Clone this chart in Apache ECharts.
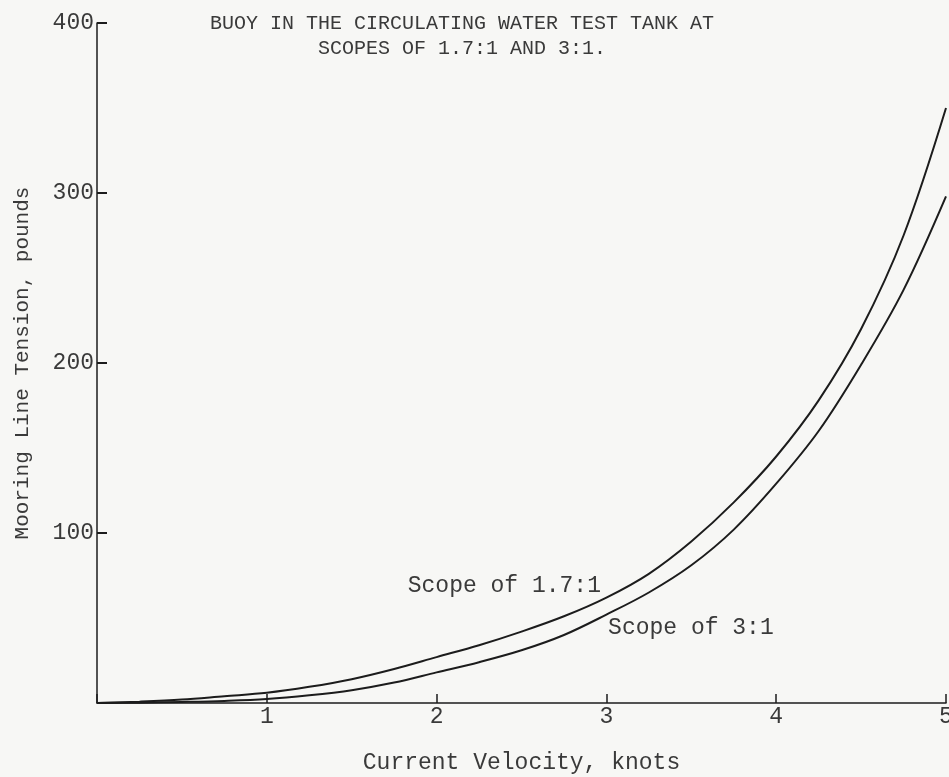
<!DOCTYPE html>
<html>
<head>
<meta charset="utf-8">
<title>Mooring Line Tension vs Current Velocity</title>
<script src="https://cdn.jsdelivr.net/npm/echarts@6/dist/echarts.min.js"></script>
<style>
  html, body { margin: 0; padding: 0; background: #f7f7f5; }
  #chart { width: 949px; height: 777px; }
</style>
</head>
<body>
<div id="chart"></div>
<script>
// Current velocity, knots
const velocity = [0, 0.25, 0.5, 0.75, 1, 1.25, 1.5, 1.75, 2, 2.25, 2.5, 2.75, 3, 3.25, 3.5, 3.75, 4, 4.25, 4.5, 4.75, 5];
// Mooring line tension, pounds, scope 1.7:1
const tensionScope17 = [0, 0.8, 2, 4, 6, 9.5, 14, 20, 27, 34, 42, 51, 62, 76, 95, 118, 145, 178, 220, 275, 350];
// Mooring line tension, pounds, scope 3:1
const tensionScope3 = [0, 0.2, 0.6, 1.2, 2.3, 4.5, 7.5, 12, 18, 24, 31, 40, 52, 65, 81, 102, 129, 160, 199, 243, 298];

const xTickLabels = ['', '1', '2', '3', '4', '5'];
const yTickLabels = ['', '100', '200', '300', '400'];

const titleLines = ['BUOY IN THE CIRCULATING WATER TEST TANK AT', 'SCOPES OF 1.7:1 AND 3:1.'];
const seriesNames = ['Scope of 1.7:1', 'Scope of 3:1'];
// label anchors in data units [knots, pounds]
const labelAnchors = [[1.83, 69], [3.01, 44]];

const mono = '"Liberation Mono", "DejaVu Sans Mono", monospace';
const ink = '#1c1c1c';
const textInk = '#3a3a3a';

const chart = echarts.init(document.getElementById('chart'), null, { renderer: 'canvas' });

function pairs(xs, ys) { return xs.map((x, i) => [x, ys[i]]); }

function curve(name, values, anchor) {
  return {
    name: name,
    type: 'line',
    data: pairs(velocity, values),
    smooth: 0.35,
    symbol: 'none',
    lineStyle: { color: ink, width: 2 },
    markPoint: {
      symbol: 'circle',
      symbolSize: 0,
      silent: true,
      data: [{
        coord: anchor,
        label: {
          show: true,
          position: 'right',
          distance: 0,
          formatter: name,
          color: textInk,
          fontFamily: mono,
          fontSize: 23
        }
      }]
    }
  };
}

chart.setOption({
  backgroundColor: '#f7f7f5',
  animation: false,
  title: {
    text: titleLines.join('\n'),
    left: 457,
    textAlign: 'center',
    top: 6,
    textStyle: {
      color: textInk,
      fontFamily: mono,
      fontSize: 20,
      fontWeight: 'normal',
      lineHeight: 25
    }
  },
  grid: { left: 97, right: 3, top: 23, bottom: 74, containLabel: false, outerBoundsMode: 'none' },
  xAxis: {
    type: 'value',
    min: 0,
    max: 5,
    interval: 1,
    name: 'Current Velocity, knots',
    nameLocation: 'middle',
    nameGap: 48,
    nameTextStyle: { color: textInk, fontFamily: mono, fontSize: 23 },
    axisLine: { show: true, lineStyle: { color: ink, width: 1.5 } },
    axisTick: { show: true, inside: true, length: 9, lineStyle: { color: ink, width: 1.5 } },
    axisLabel: {
      color: textInk,
      fontFamily: mono,
      fontSize: 23,
      margin: 2,
      formatter: (v) => xTickLabels[Math.round(v)] || ''
    },
    splitLine: { show: false }
  },
  yAxis: {
    type: 'value',
    min: 0,
    max: 400,
    interval: 100,
    name: 'Mooring Line Tension, pounds',
    nameLocation: 'middle',
    nameGap: 64,
    nameRotate: 90,
    nameTextStyle: { color: textInk, fontFamily: mono, fontSize: 21 },
    axisLine: { show: true, lineStyle: { color: ink, width: 1.5 } },
    axisTick: { show: true, inside: true, length: 10, lineStyle: { color: ink, width: 2 } },
    axisLabel: {
      color: textInk,
      fontFamily: mono,
      fontSize: 23,
      margin: 3,
      formatter: (v) => yTickLabels[Math.round(v / 100)] || ''
    },
    splitLine: { show: false }
  },
  series: [
    curve(seriesNames[0], tensionScope17, labelAnchors[0]),
    curve(seriesNames[1], tensionScope3, labelAnchors[1])
  ]
});
</script>
</body>
</html>
